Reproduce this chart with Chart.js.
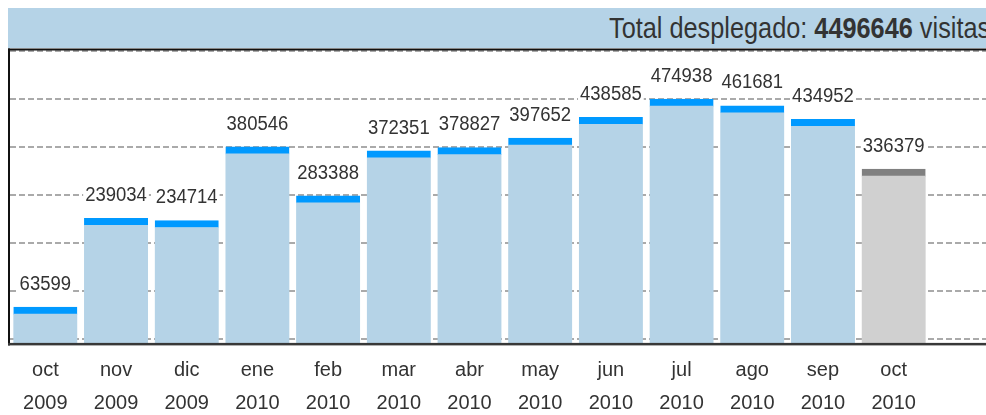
<!DOCTYPE html>
<html><head><meta charset="utf-8">
<script src="https://cdn.jsdelivr.net/npm/chart.js@4/dist/chart.umd.min.js"></script>
<style>
html,body{margin:0;padding:0;background:#fff;overflow:hidden;width:986px;height:415px;}
#wrap{position:relative;width:986px;height:415px;overflow:hidden;}
canvas{position:absolute;left:0;top:0;}
#hdr{position:absolute;left:8px;top:8px;width:990px;height:40px;background:#b5d3e7;}
#ttl{position:absolute;left:609px;top:13px;font-family:"Liberation Sans",Arial,sans-serif;font-size:25.3px;line-height:25px;color:#333;white-space:nowrap;transform:scaleY(1.17);transform-origin:0 0;}
</style></head>
<body><div id="wrap"><canvas id="c" width="986" height="430"></canvas><div id="hdr"></div><div id="ttl">Total desplegado: <b>4496646</b> visitas</div></div>
<script>
const months = ['oct','nov','dic','ene','feb','mar','abr','may','jun','jul','ago','sep','oct'];
const years  = ['2009','2009','2009','2010','2010','2010','2010','2010','2010','2010','2010','2010','2010'];
const values = [63599,239034,234714,380546,283388,372351,378827,397652,438585,474938,461681,434952,336379];
const gridValues = [0,95000,190000,285000,380000,475000,570000];
const Y_MIN = -8300, Y_MAX = 572000;

const framePlugin = {
  id:'frame',
  beforeDatasetsDraw(chart){
    const {ctx, chartArea:a, scales:{y}} = chart;
    const W = chart.width;
    ctx.save();
    ctx.strokeStyle='#aaaaaa'; ctx.lineWidth=2; ctx.setLineDash([6,3]);
    gridValues.forEach(v=>{
      const py = Math.round(y.getPixelForValue(v));
      ctx.beginPath(); ctx.moveTo(a.left, py); ctx.lineTo(W, py); ctx.stroke();
    });
    ctx.restore();
  },
  afterDatasetsDraw(chart){
    const {ctx, chartArea:a} = chart;
    const W = chart.width;
    const meta = chart.getDatasetMeta(0);
    ctx.save();
    ctx.font = '18.5px "Liberation Sans", Arial, sans-serif';
    meta.data.forEach((bar,i)=>{
      const txt = String(values[i]);
      const w = ctx.measureText(txt).width;
      const cy = bar.y - 23;
      ctx.fillStyle='#fff';
      ctx.fillRect(bar.x - w/2 - 2, cy - 9, w + 4, 18);
      ctx.save();
      ctx.translate(bar.x, cy); ctx.scale(1,1.12);
      ctx.fillStyle='#333'; ctx.textAlign='center'; ctx.textBaseline='middle';
      ctx.fillText(txt,0,0);
      ctx.restore();
    });
    ctx.fillStyle='#111';
    ctx.fillRect(8, 48.5, W-8, 2);
    ctx.fillRect(8, 48.5, 2, a.bottom - 48.5 + 2);
    ctx.fillStyle='#383838';
    ctx.fillRect(8, a.bottom - 0.5, W-8, 2.5);
    ctx.restore();
  }
};

new Chart(document.getElementById('c'), {
  type:'bar',
  data:{
    labels: months.map((m,i)=>[m, years[i]]),
    datasets:[{
      data: values,
      base: Y_MIN,
      backgroundColor: c => c.dataIndex === values.length-1 ? '#d0d0d0' : '#b5d3e7',
      borderColor: c => c.dataIndex === values.length-1 ? '#808080' : '#0099ff',
      borderWidth:{top:7,left:0,right:0,bottom:0},
      barThickness:64
    }]
  },
  options:{
    responsive:false, animation:false, events:[],
    layout:{padding:{left:10,right:57,top:50,bottom:0}},
    plugins:{legend:{display:false}, tooltip:{enabled:false}},
    scales:{
      x:{
        grid:{display:false, drawTicks:false}, border:{display:false},
        ticks:{font:{family:'"Liberation Sans", Arial, sans-serif', size:20, lineHeight:1.665}, color:'#333', padding:10, maxRotation:0, autoSkip:false}
      },
      y:{display:false, min:Y_MIN, max:Y_MAX}
    }
  },
  plugins:[framePlugin]
});
</script>
</body></html>
